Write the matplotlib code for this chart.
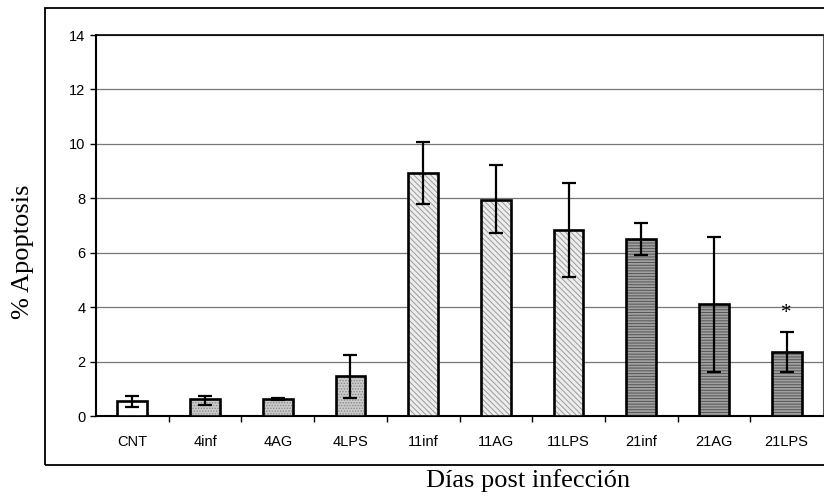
import numpy as np
import matplotlib.pyplot as plt
from matplotlib.patches import Rectangle

# groups and values
labels = ['CNT', '4inf', '4AG', '4LPS', '11inf', '11AG', '11LPS', '21inf', '21AG', '21LPS']
means = [0.56, 0.62, 0.62, 1.47, 8.93, 7.94, 6.84, 6.50, 4.12, 2.36]
err_low = [0.33, 0.40, 0.57, 0.67, 7.79, 6.72, 5.12, 5.92, 1.63, 1.63]
err_high = [0.75, 0.73, 0.65, 2.24, 10.05, 9.23, 8.56, 7.08, 6.57, 3.10]

# fill, hatch and hatch colour per day group
colors = ['white', '#cbcbcb', '#cbcbcb', '#cbcbcb', '#ededed', '#ededed', '#ededed',
          '#a0a0a0', '#a0a0a0', '#a0a0a0']
hatches = ['', '......', '......', '......', '\\' * 6, '\\' * 6, '\\' * 6,
           '-' * 6, '-' * 6, '-' * 6]
hatch_cols = ['white', '#888888', '#888888', '#888888', '#9a9a9a', '#9a9a9a', '#9a9a9a',
              '#555555', '#555555', '#555555']

plt.rcParams['hatch.linewidth'] = 0.7

fig = plt.figure(figsize=(8.24, 4.98), dpi=100)
ax = fig.add_axes([96/824, 1 - 416/498, 727/824, 381/498])

x = np.arange(len(labels))
yerr = np.array([np.array(means) - np.array(err_low), np.array(err_high) - np.array(means)])

for i in range(len(labels)):
    # hatched fill, then black outline on top
    ax.bar(x[i], means[i], width=0.41, color=colors[i], hatch=hatches[i],
           edgecolor=hatch_cols[i], linewidth=0, zorder=3)
    ax.bar(x[i], means[i], width=0.41, fill=False, edgecolor='black',
           linewidth=1.9, zorder=3)
ax.errorbar(x, means, yerr=yerr, fmt='none', ecolor='black', elinewidth=1.6,
            capsize=5, capthick=1.6, zorder=4)

# significance mark
ax.text(x[-1], err_high[-1] + 0.3, '*', ha='center', va='bottom',
        fontsize=15, family='Liberation Serif')

ax.set_xlim(-0.5, 9.5)
ax.set_ylim(0, 14)
ax.set_yticks(np.arange(0, 15, 2))
ax.yaxis.grid(True, color='#777777', linewidth=0.9, zorder=0)
ax.set_xticks(x)
ax.set_xticklabels(labels, family='Liberation Sans', fontsize=10.5)
ax.set_xticks(x[:-1] + 0.5, minor=True)
ax.tick_params(axis='x', which='major', length=0, pad=14)
ax.tick_params(axis='x', which='minor', length=4, width=1, direction='out')
ax.tick_params(axis='y', length=4, width=1, direction='out', labelsize=10.5)
for t in ax.get_yticklabels():
    t.set_family('Liberation Sans')

ax.spines['left'].set_linewidth(1.5)
ax.spines['bottom'].set_linewidth(1.5)
ax.spines['top'].set_linewidth(1.2)
ax.spines['right'].set_color('#555555')

# outer frame of the chart area
fig.patches.append(Rectangle((45/824, 1 - 465/498), 1.0, (465 - 8)/498,
                             transform=fig.transFigure, fill=False,
                             edgecolor='black', linewidth=1.3))

fig.text(23/824, 1 - 252/498, '% Apoptosis', rotation=90, ha='center', va='center',
         fontsize=19, family='Liberation Serif')
fig.text(528/824, 1 - 481/498, 'Días post infección', ha='center', va='center',
         fontsize=19, family='Liberation Serif')

fig.savefig('out.png', dpi=100)
